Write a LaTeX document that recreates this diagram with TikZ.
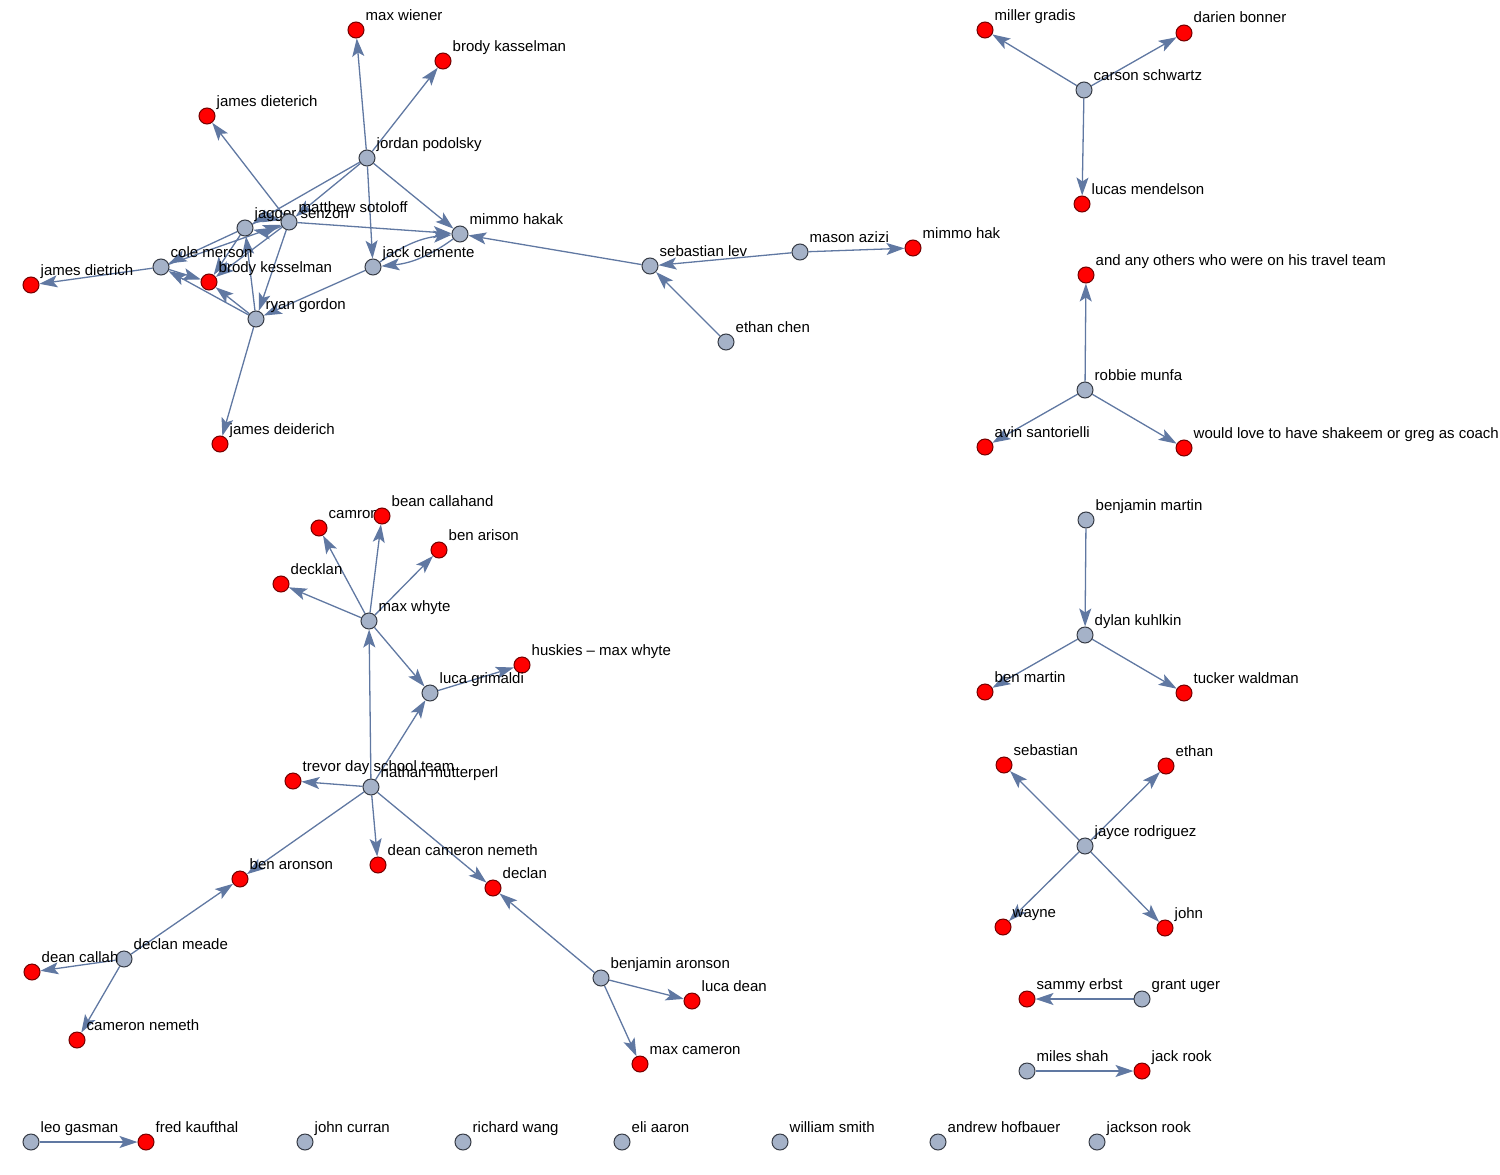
\documentclass[tikz,border=0pt]{standalone}
\usepackage{fontspec}
\setmainfont{Liberation Sans}
\usetikzlibrary{arrows.meta}
\definecolor{vgray}{RGB}{165,178,200}
\definecolor{vred}{RGB}{255,0,0}
\definecolor{vedge}{RGB}{96,120,162}
\definecolor{vline}{RGB}{55,60,70}
\pgfdeclarelayer{background}
\pgfsetlayers{background,main}

\begin{document}
\begin{tikzpicture}[x=1pt,y=-1pt,
  gnode/.style={circle,draw=vline,fill=vgray,line width=1pt,minimum size=16pt,inner sep=0pt},
  rnode/.style={gnode,fill=vred,draw=red!45!black},
  lbl/.style={anchor=base west,inner sep=0pt,xshift=1pt,yshift=10pt,font=\fontsize{15}{18}\selectfont},
  edge/.style={draw=vedge,line width=1.3pt,-{Stealth[length=18pt,width=12pt,inset=4pt]}}]
\useasboundingbox (0,0) rectangle (1500,1175);

% first cluster
\node[rnode,label={[lbl]0:max wiener}] (mwi) at (356,30) {};
\node[rnode,label={[lbl]0:brody kasselman}] (bka) at (443,61) {};
\node[rnode,label={[lbl]0:james dieterich}] (jdt) at (207,116) {};
\node[gnode,label={[lbl]0:jordan podolsky}] (jp) at (367,158) {};
\node[gnode,label={[lbl]0:jagger senzon}] (js) at (245,228) {};
\node[gnode,label={[lbl]0:matthew sotoloff}] (ms) at (289,222) {};
\node[gnode,label={[lbl]0:mimmo hakak}] (mh) at (460,234) {};
\node[gnode,label={[lbl]0:cole merson}] (cm) at (161,267) {};
\node[gnode,label={[lbl]0:jack clemente}] (jc) at (373,267) {};
\node[rnode,label={[lbl]0:brody kesselman}] (bk) at (209,282) {};
\node[rnode,label={[lbl]0:james dietrich}] (jdi) at (31,285) {};
\node[gnode,label={[lbl]0:ryan gordon}] (rg) at (256,319) {};
\node[rnode,label={[lbl]0:james deiderich}] (jde) at (220,444) {};
\node[gnode,label={[lbl]0:sebastian lev}] (sl) at (650,266) {};
\node[gnode,label={[lbl]0:mason azizi}] (ma) at (800,252) {};
\node[rnode,label={[lbl]0:mimmo hak}] (mhk) at (913,248) {};
\node[gnode,label={[lbl]0:ethan chen}] (ec) at (726,342) {};

% right column
\node[rnode,label={[lbl]0:miller gradis}] (mg) at (985,30) {};
\node[rnode,label={[lbl]0:darien bonner}] (db) at (1184,33) {};
\node[gnode,label={[lbl]0:carson schwartz}] (cs) at (1084,90) {};
\node[rnode,label={[lbl]0:lucas mendelson}] (lm) at (1082,204) {};
\node[rnode,label={[lbl]0:and any others who were on his travel team}] (ao) at (1086,275) {};
\node[gnode,label={[lbl]0:robbie munfa}] (rm) at (1085,390) {};
\node[rnode,label={[lbl]0:avin santorielli}] (as) at (985,447) {};
\node[rnode,label={[lbl]0:would love to have shakeem or greg as coach}] (wl) at (1184,448) {};
\node[gnode,label={[lbl]0:benjamin martin}] (bm) at (1086,520) {};
\node[gnode,label={[lbl]0:dylan kuhlkin}] (dk) at (1085,635) {};
\node[rnode,label={[lbl]0:ben martin}] (bmr) at (985,692) {};
\node[rnode,label={[lbl]0:tucker waldman}] (tw) at (1184,693) {};
\node[rnode,label={[lbl]0:sebastian}] (seb) at (1004,765) {};
\node[rnode,label={[lbl]0:ethan}] (eth) at (1166,766) {};
\node[gnode,label={[lbl]0:jayce rodriguez}] (jr) at (1085,846) {};
\node[rnode,label={[lbl]0:wayne}] (wy) at (1003,927) {};
\node[rnode,label={[lbl]0:john}] (jo) at (1165,928) {};
\node[rnode,label={[lbl]0:sammy erbst}] (se) at (1027,999) {};
\node[gnode,label={[lbl]0:grant uger}] (gu) at (1142,999) {};
\node[gnode,label={[lbl]0:miles shah}] (msh) at (1027,1071) {};
\node[rnode,label={[lbl]0:jack rook}] (jrk) at (1142,1071) {};

% second cluster
\node[rnode,label={[lbl]0:camron}] (cam) at (319,528) {};
\node[rnode,label={[lbl]0:bean callahand}] (bc) at (382,516) {};
\node[rnode,label={[lbl]0:ben arison}] (bar) at (439,550) {};
\node[rnode,label={[lbl]0:decklan}] (dkl) at (281,584) {};
\node[gnode,label={[lbl]0:max whyte}] (mw) at (369,621) {};
\node[rnode,label={[lbl]0:huskies -- max whyte}] (hu) at (522,665) {};
\node[gnode,label={[lbl]0:luca grimaldi}] (lg) at (430,693) {};
\node[rnode,label={[lbl]0:trevor day school team}] (td) at (293,781) {};
\node[gnode,label={[lbl]0:nathan mutterperl}] (nm) at (371,787) {};
\node[rnode,label={[lbl]0:dean cameron nemeth}] (dcn) at (378,865) {};
\node[rnode,label={[lbl]0:ben aronson}] (ba) at (240,879) {};
\node[rnode,label={[lbl]0:declan}] (dc) at (493,888) {};
\node[gnode,label={[lbl]0:declan meade}] (dm) at (124,959) {};
\node[rnode,label={[lbl]0:dean callah}] (dca) at (32,972) {};
\node[rnode,label={[lbl]0:cameron nemeth}] (cn) at (77,1040) {};
\node[gnode,label={[lbl]0:benjamin aronson}] (bja) at (601,978) {};
\node[rnode,label={[lbl]0:luca dean}] (ld) at (692,1001) {};
\node[rnode,label={[lbl]0:max cameron}] (mc) at (640,1064) {};

% bottom row
\node[gnode,label={[lbl]0:leo gasman}] (lgs) at (31,1142) {};
\node[rnode,label={[lbl]0:fred kaufthal}] (fk) at (146,1142) {};
\node[gnode,label={[lbl]0:john curran}] (jcu) at (305,1142) {};
\node[gnode,label={[lbl]0:richard wang}] (rw) at (463,1142) {};
\node[gnode,label={[lbl]0:eli aaron}] (ea) at (622,1142) {};
\node[gnode,label={[lbl]0:william smith}] (wsm) at (780,1142) {};
\node[gnode,label={[lbl]0:andrew hofbauer}] (ah) at (938,1142) {};
\node[gnode,label={[lbl]0:jackson rook}] (jkr) at (1097,1142) {};

\begin{pgfonlayer}{background}
\draw[edge] (jp) -- (mwi);
\draw[edge] (jp) -- (bka);
\draw[edge] (jp) -- (mh);
\draw[edge] (jp) -- (jc);
\draw[edge] (jp) -- (js);
\draw[edge] (jp) -- (ms);
\draw[edge] (ms) -- (jdt);
\draw[edge] (ms) -- (mh);
\draw[edge] (ms) -- (rg);
\draw[edge] (ms) -- (bk);
\draw[edge] (js) to[bend left=20] (ms);
\draw[edge] (ms) to[bend left=20] (js);
\draw[edge] (js) -- (cm);
\draw[edge] (js) -- (bk);
\draw[edge] (cm) -- (ms);
\draw[edge] (cm) -- (bk);
\draw[edge] (cm) -- (jdi);
\draw[edge] (rg) -- (js);
\draw[edge] (rg) -- (cm);
\draw[edge] (rg) -- (bk);
\draw[edge] (rg) -- (jde);
\draw[edge] (jc) -- (rg);
\draw[edge] (jc) to[bend left=15] (mh);
\draw[edge] (mh) to[bend left=15] (jc);
\draw[edge] (sl) -- (mh);
\draw[edge] (ma) -- (sl);
\draw[edge] (ma) -- (mhk);
\draw[edge] (ec) -- (sl);

\draw[edge] (cs) -- (mg);
\draw[edge] (cs) -- (db);
\draw[edge] (cs) -- (lm);
\draw[edge] (rm) -- (ao);
\draw[edge] (rm) -- (as);
\draw[edge] (rm) -- (wl);
\draw[edge] (bm) -- (dk);
\draw[edge] (dk) -- (bmr);
\draw[edge] (dk) -- (tw);
\draw[edge] (jr) -- (seb);
\draw[edge] (jr) -- (eth);
\draw[edge] (jr) -- (wy);
\draw[edge] (jr) -- (jo);
\draw[edge] (gu) -- (se);
\draw[edge] (msh) -- (jrk);

\draw[edge] (mw) -- (cam);
\draw[edge] (mw) -- (bc);
\draw[edge] (mw) -- (bar);
\draw[edge] (mw) -- (dkl);
\draw[edge] (mw) -- (lg);
\draw[edge] (lg) -- (hu);
\draw[edge] (nm) -- (mw);
\draw[edge] (nm) -- (lg);
\draw[edge] (nm) -- (td);
\draw[edge] (nm) -- (dcn);
\draw[edge] (nm) -- (ba);
\draw[edge] (nm) -- (dc);
\draw[edge] (dm) -- (ba);
\draw[edge] (dm) -- (dca);
\draw[edge] (dm) -- (cn);
\draw[edge] (bja) -- (dc);
\draw[edge] (bja) -- (ld);
\draw[edge] (bja) -- (mc);
\draw[edge] (lgs) -- (fk);
\end{pgfonlayer}

\end{tikzpicture}
\end{document}
